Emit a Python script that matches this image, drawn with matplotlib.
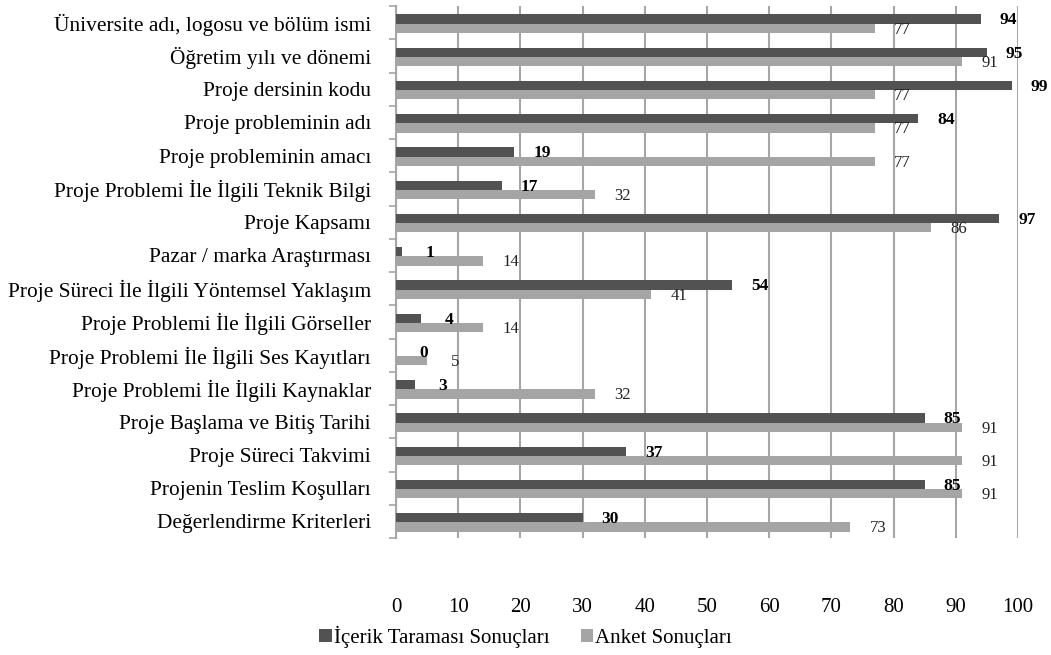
import numpy as np
import matplotlib
matplotlib.use("Agg")
import matplotlib.pyplot as plt

categories = [
    "Üniversite adı, logosu ve bölüm ismi",
    "Öğretim yılı ve dönemi",
    "Proje dersinin kodu",
    "Proje probleminin adı",
    "Proje probleminin amacı",
    "Proje Problemi İle İlgili Teknik Bilgi",
    "Proje Kapsamı",
    "Pazar / marka Araştırması",
    "Proje Süreci İle İlgili Yöntemsel Yaklaşım",
    "Proje Problemi İle İlgili Görseller",
    "Proje Problemi İle İlgili Ses Kayıtları",
    "Proje Problemi İle İlgili Kaynaklar",
    "Proje Başlama ve Bitiş Tarihi",
    "Proje Süreci Takvimi",
    "Projenin Teslim Koşulları",
    "Değerlendirme Kriterleri",
]
icerik = [94, 95, 99, 84, 19, 17, 97, 1, 54, 4, 0, 3, 85, 37, 85, 30]
anket = [77, 91, 77, 77, 77, 32, 86, 14, 41, 14, 5, 32, 91, 91, 91, 73]
xticks = list(range(0, 101, 10))

plt.rcParams['font.family'] = ['Liberation Serif', 'DejaVu Serif']

dark = '#525252'
light = '#a5a5a5'
grid = '#a6a6a6'

fig = plt.figure(figsize=(10.51, 6.55), dpi=100)
ax = fig.add_axes([396 / 1051, 1 - 538 / 655, 622 / 1051, 532 / 655])

y = np.arange(len(categories))
h = 0.28
ax.barh(y - h / 2 + 0.03, icerik, height=h, color=dark, label='İçerik Taraması Sonuçları', zorder=3)
ax.barh(y + h / 2 + 0.03, anket, height=h, color=light, label='Anket Sonuçları', zorder=3)

for i, (a, b) in enumerate(zip(icerik, anket)):
    ax.annotate(str(a), (a, y[i] - h / 2 + 0.03), xytext=(20, -1), textcoords='offset points',
                ha='center', va='center', fontsize=12.5, fontweight='bold', color='black', zorder=4)
    ax.annotate(str(b), (b, y[i] + h / 2 + 0.03), xytext=(20, -1), textcoords='offset points',
                ha='center', va='center', fontsize=12, color='#222222', zorder=4)

ax.set_xlim(0, 100)
ax.set_ylim(len(categories) - 0.5, -0.5)
ax.set_xticks(xticks)
ax.set_xticklabels([str(t) for t in xticks], fontsize=15)
ax.tick_params(axis='x', length=0, pad=43)
ax.set_yticks(y)
ax.set_yticklabels(categories, fontsize=15.4)
ax.tick_params(axis='y', length=0, pad=18)
ax.set_yticks(np.arange(-0.5, len(categories), 1), minor=True)
ax.tick_params(axis='y', which='minor', length=5, color=grid, width=1.2)

ax.grid(axis='x', color=grid, linewidth=1.5, zorder=0)
for s in ['top', 'right', 'bottom']:
    ax.spines[s].set_visible(False)
ax.spines['left'].set_color(grid)
ax.spines['left'].set_linewidth(1.5)

fig.legend(loc='center', bbox_to_anchor=(0.5, 1 - 637 / 655), ncol=2, frameon=False,
           fontsize=15, handlelength=0.6, handleheight=0.6, handletextpad=0.1, columnspacing=1.5)

fig.savefig('out.png', dpi=100)
